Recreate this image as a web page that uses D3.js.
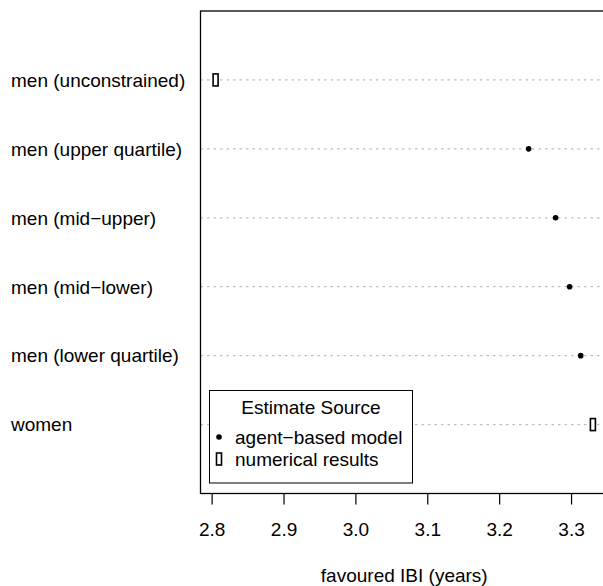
<!DOCTYPE html>
<html>
<head>
<meta charset="utf-8">
<script src="https://cdn.jsdelivr.net/npm/d3@7"></script>
<style>
  body { margin: 0; background: #fff; }
  svg { display: block; font-family: "Liberation Sans", Arial, sans-serif; }
</style>
</head>
<body>
<div id="chart"></div>
<script>
// groups from bottom to top, as R's dotchart lays them out
let groups = ["women", "men (lower quartile)", "men (mid\u2212lower)", "men (mid\u2212upper)", "men (upper quartile)", "men (unconstrained)"];
let values = [3.3304, 3.3134, 3.298, 3.2785, 3.241, 2.8055];
let sources = ["numerical", "agent", "agent", "agent", "agent", "numerical"];
let ticks = [2.8, 2.9, 3.0, 3.1, 3.2, 3.3];
let legendLabels = ["agent\u2212based model", "numerical results"];

let width = 603, height = 586;
let plot = {left: 200.5, top: 11, right: 608, bottom: 493.5};
let fs = "19px";

let svg = d3.select("#chart").append("svg")
    .attr("width", width)
    .attr("height", height);

let x = d3.scaleLinear()
    .domain([2.7845, 3.3514])
    .range([plot.left, plot.right]);

let y = d3.scaleLinear()
    .domain([0, groups.length + 1])
    .range([plot.bottom, plot.top]);

// dotted guide lines
svg.append("g")
    .selectAll("line")
    .data(groups)
    .join("line")
        .attr("x1", plot.left)
        .attr("x2", plot.right)
        .attr("y1", (d, i) => y(i + 1))
        .attr("y2", (d, i) => y(i + 1))
        .attr("stroke", "#bebebe")
        .attr("stroke-width", 1.2)
        .attr("stroke-dasharray", "2.5,4");

// group labels
svg.append("g")
    .style("font-size", fs)
    .selectAll("text")
    .data(groups)
    .join("text")
        .attr("x", 11)
        .attr("y", (d, i) => y(i + 1))
        .attr("dy", "0.36em")
        .text(d => d);

// plot box
svg.append("rect")
    .attr("x", plot.left)
    .attr("y", plot.top)
    .attr("width", plot.right - plot.left)
    .attr("height", plot.bottom - plot.top)
    .attr("fill", "none")
    .attr("stroke", "#000")
    .attr("stroke-width", 1.3);

// x axis
let axis = svg.append("g")
    .attr("transform", `translate(0,${plot.bottom})`)
    .call(d3.axisBottom(x).tickValues(ticks).tickFormat(d3.format(".1f")).tickSize(11).tickPadding(18));
axis.select(".domain").remove();
axis.selectAll(".tick line").attr("stroke", "#000").attr("stroke-width", 1.2);
axis.selectAll(".tick text")
    .style("font-family", "'Liberation Sans', Arial, sans-serif")
    .style("font-size", fs)
    .attr("fill", "#000");

svg.append("text")
    .attr("x", (plot.left + plot.right) / 2)
    .attr("y", 582)
    .attr("text-anchor", "middle")
    .style("font-size", fs)
    .text("favoured IBI (years)");

// markers
function drawMarker(g, kind, cx, cy) {
    if (kind === "agent") {
        g.append("circle")
            .attr("cx", cx)
            .attr("cy", cy)
            .attr("r", 2.8)
            .attr("fill", "#000");
    } else {
        g.append("rect")
            .attr("x", cx - 2.5)
            .attr("y", cy - 6)
            .attr("width", 5)
            .attr("height", 12)
            .attr("fill", "#fff")
            .attr("stroke", "#000")
            .attr("stroke-width", 1.6);
    }
}

let marks = svg.append("g");
values.forEach((v, i) => drawMarker(marks, sources[i], x(v), y(i + 1)));

// legend
let lg = svg.append("g");
lg.append("rect")
    .attr("x", 209.5)
    .attr("y", 390.5)
    .attr("width", 203)
    .attr("height", 92.5)
    .attr("fill", "#fff")
    .attr("stroke", "#000")
    .attr("stroke-width", 1);
lg.append("text")
    .attr("x", 311)
    .attr("y", 414)
    .attr("text-anchor", "middle")
    .style("font-size", fs)
    .text("Estimate Source");
legendLabels.forEach((t, i) => {
    let cy = 437 + i * 22;
    drawMarker(lg, i === 0 ? "agent" : "numerical", 219, cy);
    lg.append("text")
        .attr("x", 235)
        .attr("y", cy)
        .attr("dy", "0.36em")
        .style("font-size", fs)
        .text(t);
});
</script>
</body>
</html>
